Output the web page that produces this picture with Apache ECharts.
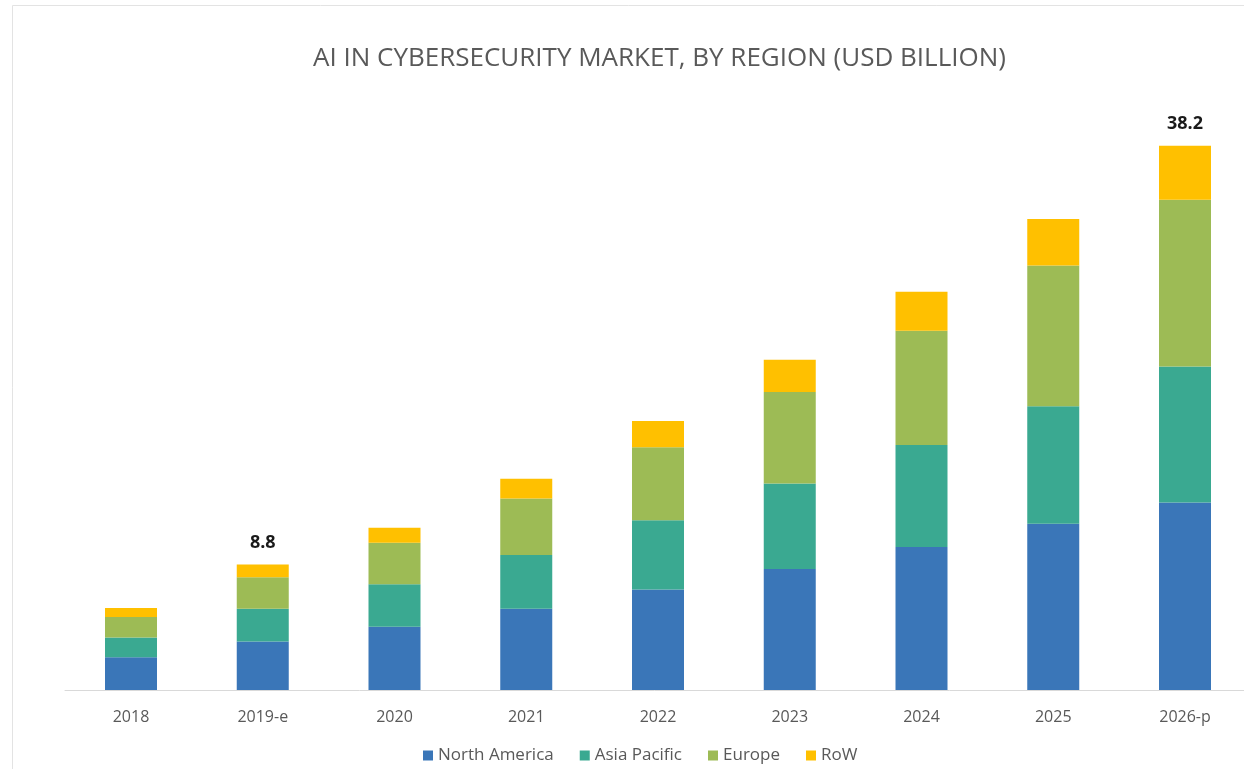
<!DOCTYPE html>
<html>
<head>
<meta charset="utf-8">
<script src="https://cdn.jsdelivr.net/npm/echarts@6/dist/echarts.min.js"></script>
<style>
html,body{margin:0;padding:0;background:#fff;}
#chart{width:1244px;height:769px;}
</style>
</head>
<body>
<div id="chart"></div>
<script>
const categories = ["2018", "2019-e", "2020", "2021", "2022", "2023", "2024", "2025", "2026-p"];
const northAmerica = [2.30, 3.40, 4.44, 5.71, 7.06, 8.50, 10.04, 11.66, 13.15];
const asiaPacific  = [1.39, 2.31, 2.98, 3.76, 4.85, 6.00, 7.16, 8.26, 9.56];
const europe       = [1.43, 2.20, 2.92, 3.97, 5.13, 6.41, 8.01, 9.87, 11.69];
const row          = [0.63, 0.89, 1.05, 1.39, 1.83, 2.27, 2.74, 3.27, 3.80];
const labelledIndices = [1, 8];

const seriesNames = ["North America", "Asia Pacific", "Europe", "RoW"];
const colors = ["#3a76b8", "#3aa991", "#9dbb55", "#ffc000"];
const seriesData = [northAmerica, asiaPacific, europe, row];

const chart = echarts.init(document.getElementById('chart'));

const series = seriesData.map((d, i) => ({
  name: seriesNames[i],
  type: 'bar',
  stack: 'total',
  barWidth: 52,
  xAxisIndex: 1,
  yAxisIndex: 1,
  data: d,
  itemStyle: { color: colors[i] },
  label: i === 3 ? {
    show: true,
    position: 'top',
    distance: 13,
    color: '#1a1a1a',
    fontSize: 18,
    fontWeight: 'bold',
    fontFamily: 'Open Sans',
    formatter: p => {
      if (labelledIndices.indexOf(p.dataIndex) < 0) return '';
      const t = northAmerica[p.dataIndex] + asiaPacific[p.dataIndex] + europe[p.dataIndex] + row[p.dataIndex];
      return t.toFixed(1);
    }
  } : { show: false },
  emphasis: { disabled: true }
}));

chart.setOption({
  animation: false,
  backgroundColor: '#ffffff',
  title: {
    text: 'AI IN CYBERSECURITY MARKET, BY REGION (USD BILLION)',
    left: 308,
    top: 41,
    textStyle: { color: '#595959', fontSize: 26, fontWeight: 'normal', fontFamily: 'Open Sans' }
  },
  graphic: [{
    type: 'rect',
    shape: { x: 12.5, y: 5.5, width: 1260, height: 800 },
    style: { fill: 'none', stroke: '#e3e3e3', lineWidth: 1 },
    silent: true
  }],
  legend: {
    data: seriesNames,
    bottom: 0,
    left: 418,
    itemWidth: 10,
    itemHeight: 10,
    itemGap: 26,
    icon: 'rect',
    textStyle: { color: '#595959', fontSize: 17, fontFamily: 'Open Sans' }
  },
  grid: [
    { left: 65, right: 0, top: 120, height: 570, containLabel: false },
    { left: 131, right: 59, top: 120, height: 570, containLabel: false }
  ],
  xAxis: [
    {
      type: 'category',
      gridIndex: 0,
      data: [''],
      axisLine: { lineStyle: { color: '#d9d9d9', width: 1 } },
      axisTick: { show: false },
      axisLabel: { show: false }
    },
    {
      type: 'category',
      gridIndex: 1,
      data: categories,
      boundaryGap: false,
      axisLine: { show: false },
      axisTick: { show: false },
      axisLabel: { color: '#595959', fontSize: 16, margin: 19, fontFamily: 'Open Sans' }
    }
  ],
  yAxis: [
    { type: 'value', gridIndex: 0, min: 0, max: 40, show: false, splitLine: { show: false } },
    { type: 'value', gridIndex: 1, min: 0, max: 40, show: false, splitLine: { show: false } }
  ],
  series: series
});
</script>
</body>
</html>
